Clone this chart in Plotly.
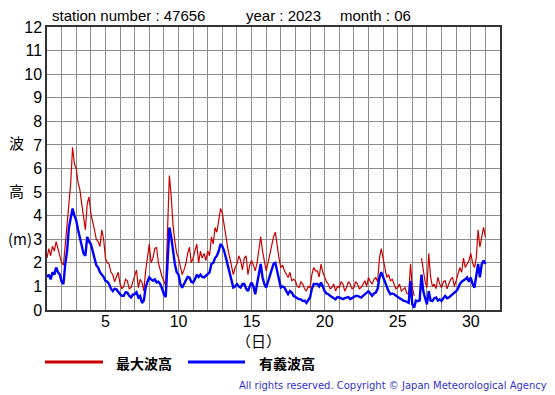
import plotly.graph_objects as go

# ---- data (3-hourly readings, June 2023, station 47656) ----
max_wave = [
    2.2, 2.6, 2.3, 2.7, 2.5, 2.9, 2.6, 2.3,
    2.0, 1.9, 2.9, 3.6, 4.5, 5.4, 6.9, 6.2,
    6.0, 5.4, 5.1, 4.5, 3.9, 3.4, 4.5, 4.8,
    4.1, 3.8, 3.4, 3.0, 2.9, 2.7, 3.4, 3.0,
    2.2, 2.0, 1.95, 1.6, 1.5, 1.2, 1.38, 1.6,
    1.1, 0.9, 1.0, 1.3, 1.24, 0.9, 0.95, 1.2,
    1.38, 1.7, 0.95, 1.3, 1.17, 0.8, 1.66, 2.2,
    2.8, 2.0, 2.2, 2.6, 2.66, 2.0, 1.66, 1.4,
    1.24, 1.0, 3.4, 5.7, 4.8, 3.6, 2.9, 2.4,
    2.2, 1.8, 1.5, 1.7, 1.95, 2.4, 2.66, 2.0,
    2.2, 2.5, 2.8, 2.0, 2.5, 2.2, 2.4, 2.1,
    2.5, 2.3, 3.1, 2.8, 3.5, 3.3, 3.8, 4.3,
    4.1, 3.5, 3.1, 2.6, 2.2, 1.8, 1.5, 1.8,
    1.95, 2.3, 2.1, 1.7, 2.2, 2.3, 1.5, 1.9,
    2.1, 1.9, 1.66, 2.0, 2.5, 3.1, 2.5, 2.0,
    1.66, 2.0, 2.4, 2.8, 3.1, 3.3, 2.66, 2.2,
    1.8, 1.9, 1.66, 1.5, 1.38, 1.6, 1.24, 1.3,
    1.24, 1.0, 0.95, 1.2, 1.1, 0.9, 0.8, 1.0,
    0.95, 1.5, 1.8, 1.66, 1.66, 1.4, 1.95, 1.6,
    1.38, 1.2, 1.1, 0.9, 0.95, 1.1, 0.8, 1.0,
    0.95, 1.2, 1.1, 0.8, 0.95, 1.2, 1.1, 0.9,
    0.95, 1.2, 1.1, 0.9, 0.95, 1.1, 1.24, 1.0,
    1.38, 1.2, 1.1, 1.3, 1.38, 1.2, 2.2, 2.6,
    2.2, 1.9, 1.38, 1.5, 1.24, 1.3, 1.1, 0.9,
    0.95, 1.1, 0.8, 0.9, 0.95, 0.7, 0.67, 1.95,
    0.95, 0.6, None, None, None, 2.2, 1.66, 1.2,
    0.95, 2.4, 1.4, 1.0, 1.1, 0.9, 1.38, 1.1,
    0.95, 1.2, 1.24, 0.9, 1.1, 1.3, 1.38, 1.0,
    1.24, 1.5, 1.8, 1.6, 2.2, 1.8, 1.95, 2.1,
    2.4, 2.0, 1.8, 2.2, 3.4, 2.66, 3.1, 3.5,
    3.1,
]

sig_wave = [
    1.4, 1.5, 1.3, 1.6, 1.5, 1.8, 1.6, 1.5,
    1.2, 1.1, 1.95, 2.5, 3.5, 3.9, 4.3, 4.0,
    3.8, 3.4, 3.1, 2.8, 2.4, 2.3, 3.1, 2.9,
    2.8, 2.5, 2.2, 1.9, 1.8, 1.6, 1.5, 1.4,
    1.24, 1.2, 1.1, 0.9, 0.8, 0.9, 0.88, 0.75,
    0.67, 0.6, 0.6, 0.75, 0.74, 0.6, 0.53, 0.65,
    0.67, 0.75, 0.53, 0.6, 0.3, 0.4, 0.95, 1.2,
    1.38, 1.3, 1.24, 1.3, 1.17, 1.2, 1.1, 0.9,
    0.67, 0.55, 2.2, 3.5, 3.1, 2.5, 1.95, 1.6,
    1.5, 1.1, 0.95, 1.1, 1.24, 1.4, 1.38, 1.2,
    1.17, 1.3, 1.5, 1.4, 1.5, 1.4, 1.38, 1.45,
    1.5, 1.6, 1.95, 2.0, 2.2, 2.3, 2.5, 2.8,
    2.7, 2.5, 2.2, 1.9, 1.5, 1.2, 0.95, 1.0,
    1.1, 1.0, 0.95, 1.1, 1.1, 0.9, 0.8, 1.0,
    1.17, 1.0, 0.67, 1.1, 1.5, 1.95, 1.38, 1.1,
    0.95, 1.2, 1.38, 1.7, 1.95, 2.0, 1.66, 1.3,
    0.95, 1.0, 0.95, 0.8, 0.67, 0.8, 0.74, 0.6,
    0.53, 0.5, 0.46, 0.45, 0.38, 0.4, 0.3, 0.4,
    0.53, 0.9, 1.1, 1.1, 1.1, 1.0, 1.17, 1.0,
    0.8, 0.7, 0.67, 0.6, 0.53, 0.5, 0.46, 0.55,
    0.53, 0.5, 0.46, 0.5, 0.53, 0.55, 0.46, 0.5,
    0.53, 0.6, 0.6, 0.55, 0.53, 0.6, 0.67, 0.7,
    0.8, 0.7, 0.6, 0.7, 0.74, 0.9, 1.38, 1.6,
    1.38, 1.2, 0.95, 0.8, 0.67, 0.7, 0.67, 0.6,
    0.53, 0.5, 0.46, 0.4, 0.38, 0.35, 0.3, 1.24,
    0.24, 0.1, 0.4, 0.38, 0.4, 1.5, 0.8, 0.5,
    0.24, 0.8, 0.4, 0.38, 0.5, 0.53, 0.4, 0.45,
    0.38, 0.5, 0.6, 0.5, 0.53, 0.6, 0.67, 0.7,
    0.8, 0.9, 1.1, 1.2, 1.24, 1.3, 1.38, 1.2,
    1.38, 1.1, 0.95, 1.38, 1.95, 1.38, 1.95, 2.1,
    1.95,
]

x_grid_days = list(range(1, 33))
x_label_days = [5, 10, 15, 20, 25, 30]
y_ticks = list(range(0, 13))

title_station = "station number : 47656"
title_year = "year : 2023"
title_month = "month : 06"
legend_max = "最大波高"
legend_sig = "有義波高"
copyright_text = "All rights reserved. Copyright © Japan Meteorological Agency"

steps_per_day = 8
x_time = [1 + i / steps_per_day for i in range(len(max_wave))]

RED = "#cc0000"
BLUE = "#0000ff"
CJK = "Noto Sans CJK JP"
LAT = "Liberation Sans, Arial, sans-serif"

fig = go.Figure()
fig.add_trace(go.Scatter(x=x_time, y=max_wave, mode="lines",
                         line=dict(color=RED, width=1.2), connectgaps=False,
                         name=legend_max, showlegend=False))
fig.add_trace(go.Scatter(x=x_time, y=sig_wave, mode="lines",
                         line=dict(color=BLUE, width=2.4),
                         name=legend_sig, showlegend=False))

# page body has an 8px default margin -> shift the whole figure
OFF = 8
W, H = 555 - OFF, 395 - OFF
L = 47 - OFF
T = 27 - OFF
R = W - (500 - OFF)
B = H - (310 - OFF)
pw, ph = W - L - R, H - T - B

def px(xr):
    return (xr - OFF - L) / pw

def py(yr):
    return (H - B - (yr - OFF)) / ph

fig.update_layout(
    width=W, height=H,
    margin=dict(l=L, r=R, t=T, b=B, pad=0),
    paper_bgcolor="white", plot_bgcolor="white",
    font=dict(family=LAT, size=15, color="black"),
    xaxis=dict(range=[1, 32], tickmode="array", tickvals=x_grid_days,
               ticktext=[str(d) if d in x_label_days else "" for d in x_grid_days],
               showgrid=True, gridcolor="#8c8c8c", gridwidth=1,
               showline=True, linecolor="#333333", linewidth=1.5, mirror=True,
               ticks="", zeroline=False, ticklabelstandoff=-4,
               tickfont=dict(size=16, family=LAT)),
    yaxis=dict(range=[0, 12], tickmode="array", tickvals=y_ticks,
               showgrid=True, gridcolor="#8c8c8c", gridwidth=1,
               showline=True, linecolor="#333333", linewidth=1.5, mirror=True,
               ticks="", zeroline=False, tickfont=dict(size=16, family=LAT)),
)

ann = []
ann.append(dict(text=title_station, x=px(50), y=py(16), xref="paper", yref="paper",
                xanchor="left", yanchor="middle", showarrow=False,
                font=dict(size=15, family=LAT)))
ann.append(dict(text=title_year, x=px(244), y=py(16), xref="paper", yref="paper",
                xanchor="left", yanchor="middle", showarrow=False,
                font=dict(size=15, family=LAT)))
ann.append(dict(text=title_month, x=px(338), y=py(16), xref="paper", yref="paper",
                xanchor="left", yanchor="middle", showarrow=False,
                font=dict(size=15, family=LAT)))
for txt, xp, yp, fs in [("波", 16, 142, 15), ("高", 16, 190, 15), ("(m)", 20, 238, 15)]:
    ann.append(dict(text=txt, x=px(xp), y=py(yp), xref="paper", yref="paper",
                    xanchor="center", yanchor="middle", showarrow=False,
                    font=dict(size=fs, family=CJK, color="black")))
ann.append(dict(text="（日）", x=px(258), y=py(340), xref="paper", yref="paper",
                xanchor="center", yanchor="middle", showarrow=False,
                font=dict(size=15, family=CJK)))
ann.append(dict(text="<b>" + legend_max + "</b>", x=px(114), y=py(363), xref="paper", yref="paper",
                xanchor="left", yanchor="middle", showarrow=False,
                font=dict(size=14, family=CJK)))
ann.append(dict(text="<b>" + legend_sig + "</b>", x=px(257), y=py(363), xref="paper", yref="paper",
                xanchor="left", yanchor="middle", showarrow=False,
                font=dict(size=14, family=CJK)))
ann.append(dict(text=copyright_text, x=px(549), y=py(385), xref="paper", yref="paper",
                xanchor="right", yanchor="middle", showarrow=False,
                font=dict(size=10, family="DejaVu Sans", color="#3333cc")))
fig.update_layout(annotations=ann)

fig.add_shape(type="line", xref="paper", yref="paper",
              x0=px(45), x1=px(103), y0=py(362), y1=py(362),
              line=dict(color=RED, width=3))
fig.add_shape(type="line", xref="paper", yref="paper",
              x0=px(188), x1=px(245), y0=py(362), y1=py(362),
              line=dict(color=BLUE, width=3))

fig.write_html("out.html")
